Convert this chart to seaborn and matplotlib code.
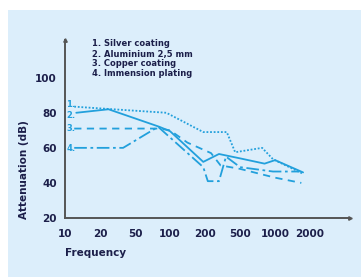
import numpy as np
import pandas as pd
import matplotlib
matplotlib.use('Agg')
import matplotlib.pyplot as plt
import seaborn as sns
from matplotlib.patches import Rectangle

sns.set_style("white")
plt.rcParams['font.family'] = ['DejaVu Sans']

# Frequency ticks (equally spaced on the axis)
freq_ticks = [10, 20, 50, 100, 200, 500, 1000, 2000]
y_ticks = [20, 40, 60, 80, 100]

# Curves (frequency, attenuation dB)
silver_f = [12, 20, 93, 193, 353, 440, 774, 960, 1705]
silver_db = [83.5, 82.5, 80, 69, 69, 57.5, 60, 53.5, 45.5]

alu_f = [12.5, 25, 81, 100, 193, 288, 500, 812, 1000, 1741]
alu_db = [80, 82, 72, 69.5, 52, 56.5, 54, 51, 53, 46]

copper_f = [12, 81, 100, 141, 234, 300, 500, 1000, 1682]
copper_db = [71, 71, 70, 63, 57, 50, 48, 43, 40]

immersion_f = [12, 36.6, 79, 193, 215, 288, 346, 500, 960, 1625]
immersion_db = [60, 60, 72, 49, 41, 41, 55, 49, 46.5, 46.5]

legend_lines = ["1. Silver coating", "2. Aluminium 2,5 mm",
                "3. Copper coating", "4. Immension plating"]
curve_labels = ["1.", "2.", "3.", "4."]
label_db = [84.5, 78.5, 71, 59.5]

# piecewise log scale: each tick step gets equal width
log_ticks = np.log10(freq_ticks)
idx = np.arange(len(freq_ticks), dtype=float)

def forward(f):
    lf = np.log10(np.clip(f, 1e-3, None))
    out = np.interp(lf, log_ticks, idx)
    hi = lf > log_ticks[-1]
    out = np.where(hi, idx[-1] + (lf - log_ticks[-1]) / (log_ticks[-1] - log_ticks[-2]), out)
    lo = lf < log_ticks[0]
    out = np.where(lo, (lf - log_ticks[0]) / (log_ticks[1] - log_ticks[0]), out)
    return out

def inverse(x):
    lf = np.interp(x, idx, log_ticks)
    hi = x > idx[-1]
    lf = np.where(hi, log_ticks[-1] + (x - idx[-1]) * (log_ticks[-1] - log_ticks[-2]), lf)
    lo = x < 0
    lf = np.where(lo, log_ticks[0] + x * (log_ticks[1] - log_ticks[0]), lf)
    return 10 ** lf

line_color = '#22A0DC'
text_color = '#1c1f4a'
bg = '#DCEEFB'

fig = plt.figure(figsize=(3.61, 2.77), dpi=100)
fig.patch.set_facecolor('white')
fig.patches.append(Rectangle((8 / 361, 0), 1, 1 - 10 / 277, transform=fig.transFigure,
                             facecolor=bg, edgecolor='none', zorder=-10))

ax = fig.add_axes([65 / 361, (277 - 218) / 277, (350 - 65) / 361, (218 - 40) / 277])
ax.set_facecolor('none')
ax.set_xscale('function', functions=(forward, inverse))
ax.set_xlim(10, inverse(np.array(8.14)))
ax.set_ylim(20, 121.5)

curves = [(silver_f, silver_db, (0, (1, 1))),
          (alu_f, alu_db, '-'),
          (copper_f, copper_db, (0, (4, 3))),
          (immersion_f, immersion_db, (0, (7, 2, 1.5, 2)))]
for f, db, ls in curves:
    sns.lineplot(x=f, y=db, ax=ax, color=line_color, linewidth=1.3,
                 linestyle=ls, estimator=None, sort=False)

for lab, yv in zip(curve_labels, label_db):
    ax.text(10.3, yv, lab, color=line_color, fontsize=6,
            fontweight='bold', va='center', ha='left')

ax.set_xticks(freq_ticks)
ax.set_xticklabels([str(t) for t in freq_ticks])
ax.set_yticks(y_ticks)
ax.tick_params(axis='both', labelsize=7.5, colors=text_color, length=2, width=1)
ax.tick_params(axis='x', pad=6)
ax.tick_params(axis='y', pad=4)
for t in ax.get_xticklabels() + ax.get_yticklabels():
    t.set_color(text_color)
    t.set_fontweight('bold')

for s in ['top', 'right']:
    ax.spines[s].set_visible(False)
for s in ['left', 'bottom']:
    ax.spines[s].set_color('#555555')
    ax.spines[s].set_linewidth(1.4)
ax.plot(1, 0, '>', color='#555555', markersize=2.5, transform=ax.transAxes, clip_on=False)
ax.plot(0, 1, '^', color='#555555', markersize=2.5, transform=ax.transAxes, clip_on=False)

ax.set_xlabel('Frequency', fontsize=7.5, color=text_color, fontweight='bold')
ax.xaxis.set_label_coords(0.0, -0.17)
ax.xaxis.label.set_ha('left')
ax.set_ylabel('Attenuation (dB)', fontsize=7.5, color=text_color, fontweight='bold')
ax.yaxis.set_label_coords(-0.125, 0.27)

for i, line in enumerate(legend_lines):
    fig.text(92 / 361, 1 - (44 + i * 10) / 277, line, fontsize=6, color=text_color,
             fontweight='bold', va='center', ha='left')

fig.savefig('out.png', dpi=100, facecolor=fig.get_facecolor())
